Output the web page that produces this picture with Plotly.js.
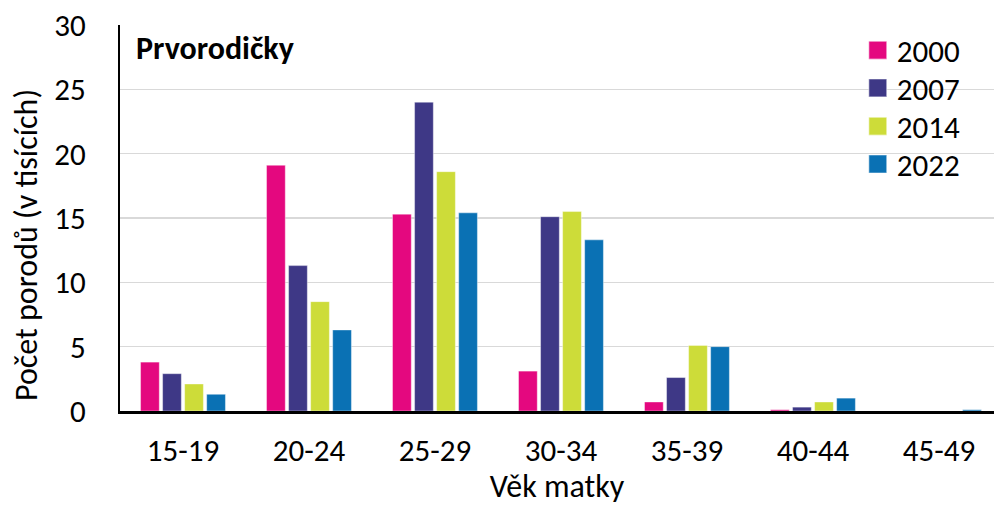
<!DOCTYPE html>
<html><head><meta charset="utf-8">
<script src="https://cdn.plot.ly/plotly-3.0.1.min.js"></script>
<style>html,body{margin:0;padding:0;background:#fff}#c{width:994px;height:506px}</style>
</head><body><div id="c"></div>
<script>
const categories = ["15-19","20-24","25-29","30-34","35-39","40-44","45-49"];
const years = ["2000","2007","2014","2022"];
const v2000 = [3.8, 19.1, 15.3, 3.1, 0.7, 0.1, 0.0];
const v2007 = [2.9, 11.3, 24.0, 15.1, 2.6, 0.3, 0.0];
const v2014 = [2.1, 8.5, 18.6, 15.5, 5.1, 0.7, 0.0];
const v2022 = [1.3, 6.3, 15.4, 13.3, 5.0, 1.0, 0.1];
const yTicks = [0,5,10,15,20,25,30];
const colors = ["#E4087F","#3E3886","#CDDC39","#0A71B4"];
const series = [v2000, v2007, v2014, v2022];
const legendIds = ["legend","legend2","legend3","legend4"];
const legendY = [0.934, 0.836, 0.737, 0.639];
const F = "Carlito, 'Liberation Sans', Arial, sans-serif";
const traces = series.map((s,i)=>({
  type:"bar", x:categories, y:s, name:years[i], legend:legendIds[i],
  marker:{color:colors[i], line:{color:"rgba(255,255,255,0.5)", width:0.8}}
}));
const layout = {
  width:994, height:506,
  margin:{l:120, r:0, t:25, b:95},
  paper_bgcolor:"#fff", plot_bgcolor:"#fff",
  font:{family:F, size:31, color:"#000"},
  barmode:"group", bargap:0.3, bargroupgap:0.15,
  showlegend:true,
  xaxis:{type:"category", range:[-0.5, 6.437], showgrid:false, showline:true,
    linecolor:"#000", linewidth:3, ticks:"", ticklabelstandoff:10, fixedrange:true,
    tickfont:{family:F, size:31},
    title:{text:"Věk matky", font:{family:F, size:32}, standoff:1}},
  yaxis:{range:[0,30], tickvals:yTicks, showgrid:true, gridcolor:"#d9d9d9", gridwidth:1.5,
    showline:true, linecolor:"#000", linewidth:2, ticks:"", ticklabelstandoff:26,
    zeroline:false, fixedrange:true, tickfont:{family:F, size:31}},
  annotations:[
    {xref:"paper", yref:"paper", x:0.016, y:0.938, xanchor:"left", yanchor:"middle",
     text:"<b>Prvorodičky</b>", showarrow:false, font:{family:F, size:32, color:"#000"}},
    {xref:"paper", yref:"paper", x:-0.1076, y:0.43, xanchor:"center", yanchor:"middle",
     textangle:-90, text:"Počet porodů (v tisících)", showarrow:false,
     font:{family:F, size:32, color:"#000"}}
  ]
};
legendIds.forEach((id,i)=>{
  layout[id] = {x:0.843, y:legendY[i], xanchor:"left", yanchor:"middle",
    bgcolor:"rgba(0,0,0,0)", font:{family:F, size:31}, itemwidth:30};
});
Plotly.newPlot("c", traces, layout, {displayModeBar:false, staticPlot:true}).then(gd=>{
  gd.querySelectorAll(".legendpoints path").forEach(p=>{
    p.setAttribute("transform","translate(21,0) scale(1.5)");
  });
});
</script></body></html>
